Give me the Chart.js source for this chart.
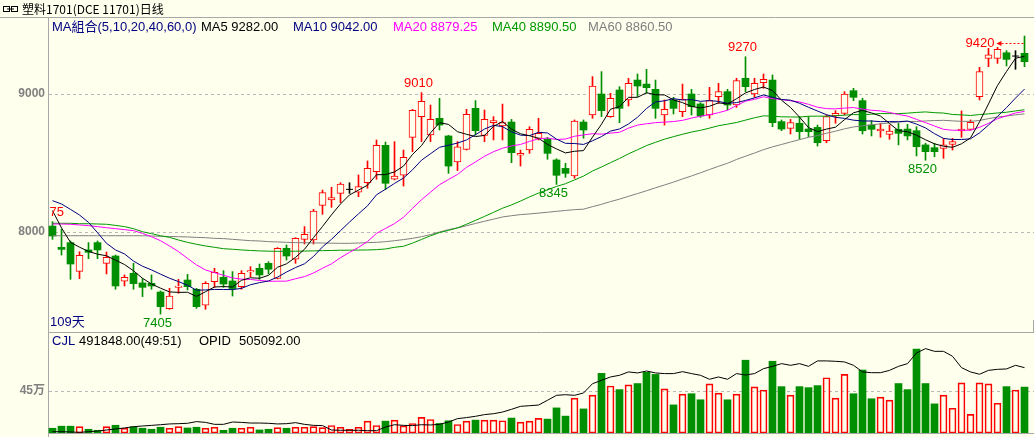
<!DOCTYPE html>
<html>
<head>
<meta charset="utf-8">
<script src="https://cdn.jsdelivr.net/npm/chart.js@4/dist/chart.umd.min.js"></script>
<style>
  html, body { margin: 0; padding: 0; background: #ffffee; }
  #wrap { position: relative; width: 1034px; height: 437px; overflow: hidden; }
  #wrap canvas { position: absolute; left: 0; top: 0; }
</style>
</head>
<body>
<div id="wrap">
  <canvas id="priceChart" width="1034" height="437"></canvas>
  <canvas id="volChart" width="1034" height="437"></canvas>
</div>
<script>
// 塑料1701 daily chart – candles + MA lines on top, CJL volume / OPID below

// ----- data (109 trading days) -----
const opens = [8043,7889,7923,7715,7870,7923,7773,7826,7643,7701,7631,7628,7565,7445,7599,7652,7585,7469,7640,7672,
  7645,7604,7710,7737,7773,7664,7882,7804,7947,7942,8193,8232,8280,8309,8288,8358,8437,8628,8382,8411,
  8686,8836,8703,8824,8696,8507,8599,8896,8700,8792,8768,8797,8556,8594,8679,8674,8522,8461,8406,8797,
  8848,9000,8836,9029,8957,9101,9072,9034,8848,8957,8872,9000,8928,8848,8981,9017,8920,9114,9000,9082,
  9101,8800,8751,8788,8746,8758,8662,8841,8860,9024,8952,8775,8732,8708,8744,8746,8734,8631,8611,8606,
  8635,8732,8744,8981,9258,9258,9299,9275,9295];
const highs = [8075,8019,7935,7857,7923,7935,7855,7833,7689,7773,7662,7689,7573,7592,7657,7693,7592,7640,7737,7720,
  7713,7720,7749,7768,7785,7887,7906,7959,8039,8164,8304,8324,8357,8357,8413,8515,8667,8652,8655,8594,
  8889,9010,8920,8969,8700,8655,8889,8952,8884,8836,8927,8816,8594,8763,8824,8686,8531,8498,8812,8812,
  9126,9162,9005,9053,9114,9145,9179,9101,8957,8976,9072,9034,8937,9048,9077,9034,9114,9270,9114,9145,
  9138,8812,8816,8836,8836,8775,8848,8879,9017,9041,8969,8807,8787,8775,8787,8780,8763,8643,8643,8679,
  8679,8877,8812,9193,9331,9338,9314,9314,9420];
const lows = [7947,7833,7657,7662,7807,7807,7696,7585,7609,7585,7532,7585,7405,7440,7556,7580,7447,7440,7599,7599,
  7536,7585,7676,7657,7696,7660,7797,7773,7913,7913,8128,8179,8213,8280,8256,8317,8382,8309,8377,8333,
  8582,8655,8655,8739,8425,8445,8594,8703,8655,8667,8667,8502,8478,8570,8667,8527,8345,8396,8389,8679,
  8824,8836,8831,8792,8913,8981,9005,8824,8775,8855,8836,8848,8831,8824,8932,8884,8903,9017,8976,9041,
  8763,8734,8710,8672,8691,8623,8647,8788,8848,8952,8710,8696,8686,8672,8631,8667,8551,8520,8546,8534,
  8594,8686,8739,8957,9198,9222,9203,9179,9198];
const closes = [7971,7874,7768,7831,7853,7870,7817,7609,7672,7626,7599,7609,7459,7536,7609,7604,7459,7628,7708,7623,
  7590,7701,7720,7689,7730,7882,7826,7954,7983,8152,8285,8249,8348,8309,8329,8461,8628,8353,8406,8541,
  8882,8947,8816,8775,8478,8618,8853,8734,8816,8807,8792,8575,8570,8744,8715,8570,8411,8425,8804,8739,
  9058,8879,8969,8896,9077,9058,9046,8896,8889,8896,8961,8908,8841,8952,9017,8920,9097,9053,9077,9106,
  8792,8746,8792,8727,8727,8647,8836,8860,9000,8976,8734,8744,8746,8732,8715,8696,8618,8582,8582,8631,
  8655,8746,8795,9162,9283,9324,9251,9275,9234];

// volume (CJL) and open interest (OPID)
const volumes = [51000,73000,73000,69000,40000,29000,69000,83000,51000,65000,51000,40000,62000,51000,69000,54000,62000,51000,62000,29000,
  51000,51000,62000,33000,40000,58000,51000,62000,62000,69000,58000,80000,62000,40000,62000,127000,80000,127000,138000,76000,
  102000,167000,145000,102000,131000,91000,127000,138000,138000,138000,131000,160000,116000,127000,156000,149000,269000,181000,374000,258000,
  406000,639000,504000,465000,515000,530000,650000,628000,472000,301000,417000,421000,356000,526000,428000,356000,417000,780000,494000,461000,
  769000,497000,406000,497000,486000,508000,592000,374000,628000,421000,675000,367000,385000,352000,530000,465000,900000,530000,312000,406000,
  265000,537000,200000,537000,526000,319000,497000,461000,491848];
const opid = [10000,10000,8000,5000,10000,15000,23000,31000,39000,49000,54000,59000,64000,70000,72000,75000,88000,82000,67000,67000,
  85000,82000,77000,77000,75000,70000,72000,80000,67000,59000,57000,23000,21000,21000,21000,18000,18000,46000,64000,59000,
  57000,64000,62000,67000,85000,111000,119000,129000,142000,149000,162000,183000,206000,211000,216000,253000,291000,296000,291000,309000,
  381000,407000,433000,446000,472000,464000,479000,464000,459000,459000,474000,459000,446000,415000,433000,415000,459000,448000,459000,497000,
  515000,536000,523000,536000,515000,557000,557000,554000,549000,523000,472000,466000,466000,484000,515000,536000,618000,652000,631000,631000,
  593000,505000,472000,454000,484000,492000,495000,523000,505092];

// MA values before a full window exists (history not in view)
const ma5Head = [8155,8030,7925,7890];
const ma10Head = [8227,8203,8164,8123,8070,7995,7918,7870,7841];
const ma20Head = [8058,8058,8056,8051,8046,8039,8031,8024,8017,8010,7990,7966,7937,7899,7858,7809,7761,7725,7705];
const ma40Head = [8063,8063,8063,8060,8060,8058,8056,8048,8039,8024,8002,7988,7973,7961,7942,7925,7911,7899,7889,7879,
  7875,7870,7866,7863,7861,7860,7860,7861,7862,7863,7865,7866,7868,7868,7869,7870,7872,7877,7889];
const ma60Head = [7973,7973,7973,7973,7973,7973,7973,7973,7973,7973,7973,7971,7969,7967,7966,7964,7961,7959,7954,7952,
  7947,7942,7937,7935,7930,7928,7925,7923,7922,7921,7920,7919,7918,7918,7920,7923,7925,7930,7937,7945,
  7954,7966,7981,8000,8017,8029,8045,8062,8078,8093,8109,8118,8126,8131,8137,8143,8150,8156,8162];

const priceTicks = [8000, 9000];
const volTicks = [450000];
const hiMarks = [0, 41, 77, 108];
const loMarks = [12, 56, 97];

// legend texts as shown on the chart
const maLegend = [
  ['MA組合(5,10,20,40,60,0)', 52, '#000080'],
  ['MA5 9282.00', 201, '#000000'],
  ['MA10 9042.00', 293, '#000080'],
  ['MA20 8879.25', 393, '#ff00ff'],
  ['MA40 8890.50', 492, '#009900'],
  ['MA60 8860.50', 588, '#808080']
];
const volLegend = [
  ['CJL', 52, '#000080'],
  ['491848.00(49:51)', 79, '#000000'],
  ['OPID', 199, '#000000'],
  ['505092.00', 239, '#000000']
];

// ----- styling -----
const FONT = '"Liberation Sans", "Noto Sans CJK SC", sans-serif';
const BG = '#ffffee';
const RED = '#ff0000';
const GREEN = '#008f00';
const FRAME = '#a8a8a8';

const labels = closes.map((_, i) => 'D' + (i + 1));
const dir = closes.map((c, i) => c > opens[i] ? 1 : (c < opens[i] ? -1 : 0));
const candleCol = dir.map(d => d > 0 ? RED : (d < 0 ? GREEN : '#000000'));

function movingAverage(n, head) {
  return closes.map((_, i) => {
    if (i < n - 1) return head[i];
    let s = 0;
    for (let k = i - n + 1; k <= i; k++) s += closes[k];
    return s / n;
  });
}

function maLine(label, data, color) {
  return { type: 'line', label, data, borderColor: color, borderWidth: 1,
    pointRadius: 0, tension: 0, fill: false, order: 0 };
}

// price panel: 9000 sits at y=94, 8000 at y=232
const P_TOP = 30, P_BOTTOM = 330, PX_PER_PT = 0.138;
const priceMax = 8000 + (232 - P_TOP) / PX_PER_PT;
const priceMin = 8000 - (P_BOTTOM - 232) / PX_PER_PT;

function fixedAxis(ticks, fmt) {
  return {
    position: 'left',
    // fixed 48px gutter, and no extra room for half-height labels
    afterFit: s => { s.width = 48; s.paddingTop = 0; s.paddingBottom = 0; },
    afterBuildTicks: s => { s.ticks = ticks.map(v => ({ value: v })); },
    grid: { display: false, drawTicks: false },
    border: { display: false },
    ticks: { color: '#808080', padding: 3, callback: fmt,
      font: { family: FONT, size: 12, weight: 'bold' } }
  };
}

function line(c, x1, y1, x2, y2) {
  c.beginPath(); c.moveTo(x1, y1); c.lineTo(x2, y2); c.stroke();
}

const priceChrome = {
  id: 'priceChrome',
  beforeDraw(chart) {
    const c = chart.ctx, W = chart.width, H = chart.height;
    c.save();
    c.fillStyle = BG;
    c.fillRect(0, 0, W, H);
    c.strokeStyle = FRAME;
    c.lineWidth = 1;
    line(c, 0, 17.5, W, 17.5);
    line(c, 48.5, 18, 48.5, H);
    line(c, 49, 332.5, W, 332.5);
    line(c, 1033.5, 320, 1033.5, 332);
    c.setLineDash([3, 3]);
    c.strokeStyle = '#b8b8b8';
    priceTicks.forEach(v => {
      const py = Math.round(chart.scales.y.getPixelForValue(v)) + 0.5;
      line(c, 49, py, W, py);
    });
    c.restore();
  },
  afterDatasetsDraw(chart) {
    const c = chart.ctx, x = chart.scales.x, y = chart.scales.y;
    c.save();
    c.beginPath();
    c.rect(49, 18, chart.width - 49, 314);
    c.clip();
    c.font = '13px ' + FONT;
    c.textBaseline = 'middle';
    c.fillStyle = RED;
    c.strokeStyle = RED;
    hiMarks.forEach(i => {
      const px = x.getPixelForValue(i), py = y.getPixelForValue(highs[i]);
      if (i === highs.length - 1) {
        // last bar: label to the left with a dashed arrow
        const ay = Math.round(py + 7) + 0.5;
        c.textAlign = 'right';
        c.fillText(String(highs[i]), px - 30, py + 7);
        c.setLineDash([2, 2]);
        line(c, px - 23, ay, px - 1, ay);
        c.setLineDash([]);
        c.beginPath();
        c.moveTo(px - 28, ay);
        c.lineTo(px - 23, ay - 2.5);
        c.lineTo(px - 23, ay + 2.5);
        c.closePath();
        c.fill();
      } else {
        c.textAlign = 'center';
        c.fillText(String(highs[i]), px - 3, py - 9);
      }
    });
    c.fillStyle = GREEN;
    c.textAlign = 'center';
    loMarks.forEach(i => {
      const px = x.getPixelForValue(i), py = y.getPixelForValue(lows[i]);
      c.fillText(String(lows[i]), px - 3, py + 9);
    });
    c.restore();
  },
  afterDraw(chart) {
    const c = chart.ctx;
    c.save();
    // title bar
    c.strokeStyle = '#000';
    c.lineWidth = 1;
    c.strokeRect(3.5, 6.5, 6, 5);
    c.strokeRect(11.5, 6.5, 6, 5);
    line(c, 7, 9, 14, 9);
    c.fillStyle = '#000';
    c.textBaseline = 'middle';
    c.textAlign = 'left';
    c.font = '12px "Noto Sans CJK SC", sans-serif';
    c.fillText('塑料1701(DCE 11701)日线', 22, 9.5);
    // MA legend
    c.font = '13px ' + FONT;
    maLegend.forEach(([t, px, col]) => { c.fillStyle = col; c.fillText(t, px, 27); });
    c.fillStyle = '#000080';
    c.fillText(closes.length + '天', 50, 322);
    c.restore();
  }
};

const volChrome = {
  id: 'volChrome',
  beforeDraw(chart) {
    const c = chart.ctx, W = chart.width;
    c.save();
    c.setLineDash([3, 3]);
    c.strokeStyle = '#b8b8b8';
    volTicks.forEach(v => {
      const py = Math.round(chart.scales.y.getPixelForValue(v)) + 0.5;
      line(c, 49, py, W, py);
    });
    c.setLineDash([]);
    c.strokeStyle = FRAME;
    line(c, 49, 433.5, W, 433.5);
    c.restore();
  },
  afterDraw(chart) {
    const c = chart.ctx;
    c.save();
    c.font = '13px ' + FONT;
    c.textBaseline = 'middle';
    c.textAlign = 'left';
    volLegend.forEach(([t, px, col]) => { c.fillStyle = col; c.fillText(t, px, 341); });
    c.restore();
  }
};

// ----- price panel -----
new Chart(document.getElementById('priceChart'), {
  type: 'bar',
  data: {
    labels,
    datasets: [
      maLine('MA5', movingAverage(5, ma5Head), '#000000'),
      maLine('MA10', movingAverage(10, ma10Head), '#000080'),
      maLine('MA20', movingAverage(20, ma20Head), '#ff00ff'),
      maLine('MA40', movingAverage(40, ma40Head), '#009900'),
      maLine('MA60', movingAverage(60, ma60Head), '#808080'),
      {
        type: 'line', label: 'doji',
        data: closes.map((c, i) => dir[i] === 0 ? c : null),
        showLine: false, pointStyle: 'line', pointRadius: 3.5,
        pointBorderColor: '#000000', pointBorderWidth: 1, order: 1
      },
      {
        label: 'body',
        data: opens.map((o, i) => dir[i] === 0 ? null : [o, closes[i]]),
        barThickness: 7, grouped: false, borderSkipped: false,
        backgroundColor: dir.map(d => d > 0 ? BG : GREEN),
        borderColor: candleCol,
        borderWidth: dir.map(d => d > 0 ? 1 : 0),
        order: 2
      },
      {
        label: 'wick',
        data: lows.map((l, i) => [l, highs[i]]),
        barThickness: 1, grouped: false, borderWidth: 0,
        backgroundColor: candleCol,
        order: 3
      }
    ]
  },
  options: {
    responsive: false,
    animation: false,
    events: [],
    layout: { padding: { top: P_TOP, bottom: 437 - P_BOTTOM, left: 0, right: 5 } },
    plugins: { legend: { display: false }, tooltip: { enabled: false } },
    scales: {
      x: { display: false, offset: true },
      y: Object.assign({ min: priceMin, max: priceMax }, fixedAxis(priceTicks, v => String(v)))
    }
  },
  plugins: [priceChrome]
});

// ----- volume / open interest panel -----
new Chart(document.getElementById('volChart'), {
  type: 'bar',
  data: {
    labels,
    datasets: [
      {
        type: 'line', label: 'OPID', data: opid, yAxisID: 'y2',
        borderColor: '#000000', borderWidth: 1, pointRadius: 0, tension: 0, order: 0
      },
      {
        label: 'CJL', data: volumes, barThickness: 7, borderSkipped: false,
        backgroundColor: dir.map(d => d < 0 ? GREEN : 'rgba(0,0,0,0)'),
        borderColor: dir.map(d => d < 0 ? GREEN : RED),
        borderWidth: dir.map(d => d < 0 ? 0 : 1),
        order: 1
      }
    ]
  },
  options: {
    responsive: false,
    animation: false,
    events: [],
    layout: { padding: { top: 345, bottom: 4, left: 0, right: 5 } },
    plugins: { legend: { display: false }, tooltip: { enabled: false } },
    scales: {
      x: { display: false, offset: true },
      y: Object.assign({ min: 0, max: 943000 }, fixedAxis(volTicks, v => (v / 10000) + '万')),
      y2: { display: false, min: 0, max: 680000 }
    }
  },
  plugins: [volChrome]
});
</script>
</body>
</html>
